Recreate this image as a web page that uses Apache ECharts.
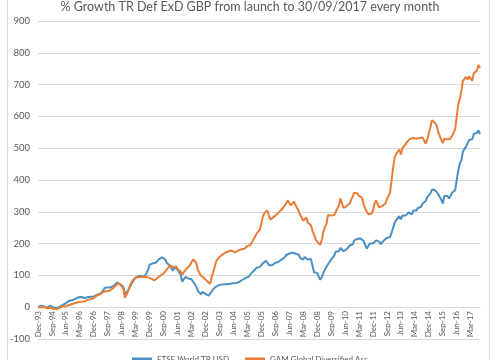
<!DOCTYPE html>
<html><head><meta charset="utf-8">
<script src="https://cdn.jsdelivr.net/npm/echarts@6/dist/echarts.min.js"></script>
<style>html,body{margin:0;padding:0;background:#fff}#c{width:500px;height:360px}</style>
</head><body><div id="c"></div>
<script>
const chartTitle = '% Growth TR Def ExD GBP from launch to 30/09/2017 every month';
const seriesNames = ['FTSE World TR USD', 'GAM Global Diversified Acc'];
const monthNames = ['Jan','Feb','Mar','Apr','May','Jun','Jul','Aug','Sep','Oct','Nov','Dec'];
const firstLabel = 'Dec-93';
const yearsFull = [1994,1995,1996,1997,1998,1999,2000,2001,2002,2003,2004,2005,2006,2007,2008,2009,2010,2011,2012,2013,2014,2015,2016];
const lastYear = 2017, lastMonthCount = 9;
const yMin = -100, yMax = 900, yStep = 100;

// FTSE World TR USD (% growth), monthly Dec-93 .. Sep-17
const ftse = [0,
 3,5,1,2,0,-2,2,5,0,-2,-4,-2,
 -1,2,4,7,10,13,18,20,23,22,24,26,
 29,31,30,32,30,29,27,31,34,33,35,34,
 37,39,38,42,45,52,61,56,62,58,63,66,
 68,74,78,76,72,66,64,42,36,52,62,70,
 80,85,93,96,98,100,97,99,98,108,118,134,
 128,138,142,140,146,151,148,157,160,150,140,138,
 130,122,115,125,124,118,112,103,80,88,95,92,
 90,86,88,80,76,66,52,50,40,48,50,42,
 38,36,40,50,56,62,66,68,66,71,70,72,
 74,72,73,74,73,75,74,76,78,80,85,87,
 88,92,90,96,104,108,114,116,124,118,126,131,
 138,142,146,144,132,130,132,136,140,144,142,147,
 150,149,156,164,170,168,165,172,176,168,162,166,
 155,153,150,158,160,150,148,152,130,110,104,108,
 96,86,94,108,118,124,135,142,150,155,162,175,
 170,176,186,190,176,172,182,180,194,200,198,210,
 212,215,210,216,213,208,204,184,178,200,194,200,
 205,210,212,206,198,204,210,214,218,216,220,226,
 250,266,274,278,286,276,288,284,288,294,298,300,
 292,304,302,304,312,314,316,326,330,334,346,350,
 358,370,374,368,372,356,362,338,326,350,356,350,
 342,350,360,362,368,400,430,452,462,490,488,505,
 510,526,530,528,545,540,548,556,544];

// GAM Global Diversified Acc (% growth), monthly Dec-93 .. Sep-17
const gam = [0,
 2,0,3,1,-2,-4,-3,-1,-4,-6,-5,-6,
 -4,-2,1,3,2,4,6,7,8,10,12,13,
 14,16,15,17,19,18,20,23,22,25,27,29,
 34,37,36,40,45,48,53,50,56,52,56,58,
 62,68,73,75,70,66,58,30,38,50,62,76,
 84,88,93,96,94,93,95,92,96,98,94,92,
 90,86,84,88,92,96,100,104,106,110,118,125,
 132,134,126,130,128,120,116,112,102,110,116,122,
 126,132,142,150,156,140,118,112,100,96,92,86,
 82,76,74,96,110,128,146,152,158,164,166,170,
 172,178,176,180,178,176,172,174,178,176,182,186,
 184,188,192,190,196,204,214,222,232,226,244,262,
 285,296,300,304,284,276,278,284,288,292,296,302,
 306,312,318,326,336,330,320,326,332,322,312,304,
 290,282,272,276,282,266,262,258,240,228,214,206,
 204,196,212,236,252,262,290,294,288,282,290,300,
 306,320,342,336,312,306,318,314,326,338,344,360,
 364,358,350,356,344,322,318,300,292,298,294,304,
 326,336,330,314,308,318,322,326,340,345,360,400,
 440,472,482,488,496,480,500,506,512,520,526,530,
 524,532,528,530,536,532,526,534,530,514,528,546,
 566,588,594,580,572,552,556,526,516,530,534,528,
 522,530,540,548,560,600,638,656,680,712,718,724,
 716,726,720,712,736,730,744,762,752];

const categories = [firstLabel];
yearsFull.forEach(y => monthNames.forEach(m => categories.push(m + '-' + String(y).slice(2))));
for (let k = 0; k < lastMonthCount; k++) categories.push(monthNames[k] + '-' + String(lastYear).slice(2));

const FONT = 'Lato, "Open Sans", sans-serif';
const chart = echarts.init(document.getElementById('c'), null, {renderer: 'canvas'});
chart.setOption({
  animation: false,
  backgroundColor: '#fff',
  title: {text: chartTitle, left: 'center', top: -5,
    textStyle: {fontSize: 12.5, fontWeight: 'normal', color: '#595959', fontFamily: FONT}},
  graphic: [{type: 'rect', silent: true, z: -10,
    shape: {x: 7.5, y: -5, width: 482, height: 380},
    style: {fill: 'none', stroke: '#d9d9d9', lineWidth: 1}}],
  legend: {data: seriesNames, top: 350, left: 'center', icon: 'rect', itemWidth: 20, itemHeight: 3, itemGap: 16,
    textStyle: {fontSize: 8, color: '#595959', fontFamily: FONT}},
  grid: {left: 38, right: 20, top: 21, bottom: 21, containLabel: false, outerBoundsMode: 'none'},
  xAxis: {type: 'category', data: categories, boundaryGap: false, position: 'bottom', offset: -32,
    axisLine: {onZero: false, lineStyle: {color: '#d9d9d9'}},
    axisTick: {show: false},
    axisLabel: {interval: 8, rotate: 90, fontSize: 8, color: '#595959', margin: 4, fontFamily: FONT},
    splitLine: {show: false}},
  yAxis: {type: 'value', min: yMin, max: yMax, interval: yStep,
    axisLine: {show: false}, axisTick: {show: false},
    axisLabel: {fontSize: 9.5, color: '#595959', margin: 8, fontFamily: FONT},
    splitLine: {lineStyle: {color: '#d9d9d9', width: 1}}},
  series: [
    {name: seriesNames[0], type: 'line', data: ftse, showSymbol: false, color: '#4a90c4',
      lineStyle: {width: 2, color: '#4a90c4'}},
    {name: seriesNames[1], type: 'line', data: gam, showSymbol: false, color: '#ea7d35',
      lineStyle: {width: 2, color: '#ea7d35'}}
  ]
});
</script></body></html>
